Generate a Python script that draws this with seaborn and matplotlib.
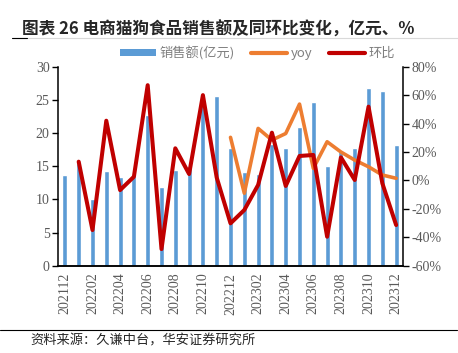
import numpy as np
import pandas as pd
import matplotlib.pyplot as plt
import seaborn as sns
from matplotlib.ticker import FuncFormatter, MultipleLocator
from matplotlib.lines import Line2D
from matplotlib.patches import Patch

months = ['202112', '202201', '202202', '202203', '202204', '202205', '202206',
          '202207', '202208', '202209', '202210', '202211', '202212',
          '202301', '202302', '202303', '202304', '202305', '202306',
          '202307', '202308', '202309', '202310', '202311', '202312']
sales = [13.7, 15.5, 10.05, 14.3, 13.3, 13.65, 22.7, 11.8, 14.5, 15.1, 24.2, 25.6, 17.8,
         14.2, 13.8, 18.4, 17.8, 20.9, 24.7, 15.1, 17.5, 17.7, 26.8, 26.4, 18.2]
yoy = [np.nan] * 12 + [30.3, -9.0, 36.6, 28.4, 33.0, 53.7, 8.5, 27.2, 20.0, 14.3, 9.6, 3.8, 1.5]
mom = [np.nan, 13.2, -34.9, 42.0, -6.8, 2.6, 67.0, -48.3, 22.6, 4.5, 60.0, 2.0, -30.2,
       -20.8, -3.2, 33.6, -3.9, 17.2, 17.9, -39.6, 16.2, 0.3, 51.9, -2.0, -31.4]

df = pd.DataFrame({'month': months, 'sales': sales, 'yoy': yoy, 'mom': mom})
df['pos'] = np.arange(len(df))

sns.set_style('white')
plt.rcParams['font.family'] = ['Noto Sans CJK SC', 'DejaVu Sans']

blue, orange, red = '#5B9BD5', '#ED7D31', '#C00000'
grey = '#595959'

fig = plt.figure(figsize=(4.58, 3.53), dpi=100)
ax = fig.add_axes([0.1266, 0.2473, 0.7534, 0.5637])

sns.barplot(data=df, x='month', y='sales', ax=ax, color=blue, width=0.36, saturation=1)
ax.set_ylim(0, 30)
ax.set_xlim(-0.5, len(months) - 0.5)
ax.yaxis.set_major_locator(MultipleLocator(5))

ax2 = ax.twinx()
sns.lineplot(data=df, x='pos', y='yoy', ax=ax2, color=orange, lw=2.6)
sns.lineplot(data=df, x='pos', y='mom', ax=ax2, color=red, lw=2.9)
ax2.set_ylim(-60, 80)
ax2.yaxis.set_major_locator(MultipleLocator(20))
ax2.yaxis.set_major_formatter(FuncFormatter(lambda v, p: f'{int(round(v))}%'))
ax2.set_xlim(-0.5, len(months) - 0.5)

serif = 'Liberation Serif'
for a in (ax, ax2):
    a.set_xlabel('')
    a.set_ylabel('')
    a.spines['top'].set_visible(False)
    for s in ('left', 'right', 'bottom'):
        a.spines[s].set_color('black')
        a.spines[s].set_linewidth(1.1)
ax.spines['right'].set_visible(False)
ax2.spines['left'].set_visible(False)

ax.set_xticks(df['pos'][::2])
ax.set_xticklabels(df['month'][::2], rotation=90)
ax.set_xticks(np.arange(-0.5, len(months)), minor=True)
ax.tick_params(axis='x', which='major', length=0, pad=5)
ax.tick_params(axis='x', which='minor', length=4, width=1, color='black', direction='out')
ax.tick_params(axis='y', length=4, width=1, color='black', direction='out', pad=2)
ax2.tick_params(axis='y', length=4, width=1, color='black', direction='out', pad=2)
for lab in ax.get_xticklabels() + ax.get_yticklabels() + ax2.get_yticklabels():
    lab.set_fontfamily(serif)
    lab.set_fontsize(10)
    lab.set_color(grey)

handles = [Patch(facecolor=blue, edgecolor='none'),
           Line2D([], [], color=orange, lw=3),
           Line2D([], [], color=red, lw=3)]
fig.legend(handles, ['销售额(亿元)', 'yoy', '环比'], loc='center', bbox_to_anchor=(0.562, 0.85),
           ncol=3, frameon=False, handlelength=2.7, handleheight=0.5, handletextpad=0.25,
           columnspacing=1.3, prop={'size': 9.5}, labelcolor='#7F7F7F')

fig.text(0.048, 0.915, '图表 26 电商猫狗食品销售额及同环比变化，亿元、%', fontsize=12,
         fontweight='bold', va='center', ha='left')
fig.add_artist(Line2D([0.026, 1.0], [0.892, 0.892], color='#D9D9D9', lw=0.8))
fig.add_artist(Line2D([0.026, 0.059], [0.892, 0.892], color='black', lw=0.8))
fig.add_artist(Line2D([0.0, 0.998], [0.065, 0.065], color='black', lw=0.8))
fig.text(0.066, 0.035, '资料来源：久谦中台，华安证券研究所', fontsize=9.5, va='center', ha='left')

fig.savefig('out.png', dpi=100)
